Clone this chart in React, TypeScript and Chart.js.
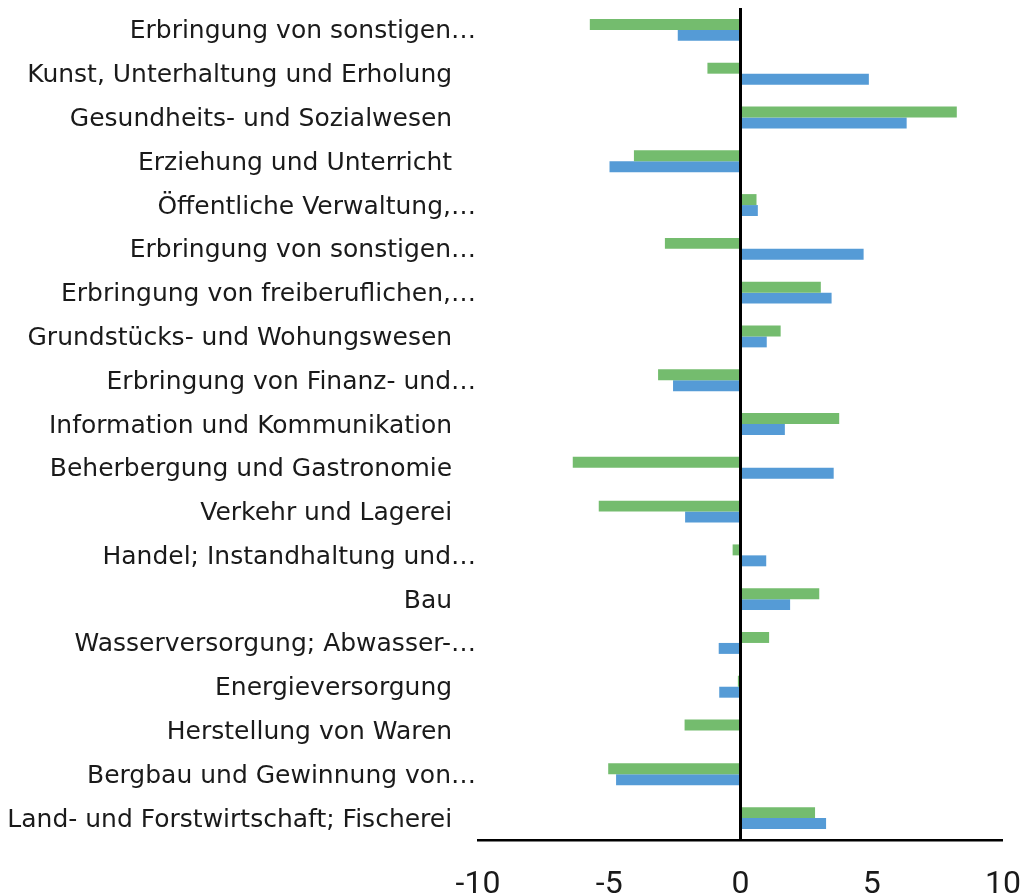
import React, { useEffect, useRef } from 'react';
import { Chart, registerables } from 'chart.js';

Chart.register(...registerables);

const categories = [
  'Erbringung von sonstigen…',
  'Kunst, Unterhaltung und Erholung',
  'Gesundheits- und Sozialwesen',
  'Erziehung und Unterricht',
  'Öffentliche Verwaltung,…',
  'Erbringung von sonstigen…',
  'Erbringung von freiberuflichen,…',
  'Grundstücks- und Wohungswesen',
  'Erbringung von Finanz- und…',
  'Information und Kommunikation',
  'Beherbergung und Gastronomie',
  'Verkehr und Lagerei',
  'Handel; Instandhaltung und…',
  'Bau',
  'Wasserversorgung; Abwasser-…',
  'Energieversorgung',
  'Herstellung von Waren',
  'Bergbau und Gewinnung von…',
  'Land- und Forstwirtschaft; Fischerei',
];

const seriesGreen = [
  -5.74, -1.26, 8.24, -4.06, 0.61, -2.88, 3.06, 1.53, -3.14, 3.76,
  -6.39, -5.4, -0.3, 3.0, 1.09, -0.1, -2.13, -5.04, 2.84,
];

const seriesBlue = [
  -2.39, 4.89, 6.33, -4.99, 0.66, 4.69, 3.47, 1.0, -2.57, 1.69,
  3.55, -2.11, 0.98, 1.89, -0.83, -0.81, 0, -4.74, 3.26,
];

const xTicks = [-10, -5, 0, 5, 10];

const GREEN = '#74BC6E';
const BLUE = '#559BD6';
const LABEL_FONT = "'DejaVu Sans', sans-serif";
const TICK_FONT = "Roboto, 'DejaVu Sans', sans-serif";

export default function App() {
  const canvasRef = useRef<HTMLCanvasElement | null>(null);

  useEffect(() => {
    document.body.style.margin = '0';
    const canvas = canvasRef.current;
    if (!canvas) return;
    const chart = new Chart(canvas, {
      type: 'bar',
      data: {
        labels: categories,
        datasets: [
          {
            label: 'A',
            data: seriesGreen,
            backgroundColor: GREEN,
            borderWidth: 0,
            categoryPercentage: 0.5,
            barPercentage: 1,
          },
          {
            label: 'B',
            data: seriesBlue,
            backgroundColor: BLUE,
            borderWidth: 0,
            categoryPercentage: 0.5,
            barPercentage: 1,
          },
        ],
      },
      options: {
        indexAxis: 'y',
        animation: false,
        responsive: true,
        maintainAspectRatio: false,
        layout: { padding: { top: 8, right: 0, bottom: 0, left: 0 } },
        plugins: {
          legend: { display: false },
          tooltip: { enabled: false },
        },
        scales: {
          x: {
            type: 'linear',
            min: -10,
            max: 10,
            afterBuildTicks: (scale: any) => {
              scale.ticks = xTicks.map((v) => ({ value: v }));
            },
            afterFit: (scale: any) => {
              scale.height = 56;
              scale.paddingLeft = 0;
              scale.paddingRight = 18;
            },
            grid: {
              display: true,
              drawTicks: false,
              z: 1,
              color: (ctx: any) => (ctx.tick && ctx.tick.value === 0 ? '#000000' : 'rgba(0,0,0,0)'),
              lineWidth: (ctx: any) => (ctx.tick && ctx.tick.value === 0 ? 3 : 0),
            },
            border: { display: true, color: '#000000', width: 2.5, z: 1 },
            ticks: {
              color: '#1a1a1a',
              font: { family: TICK_FONT, size: 32 },
              padding: 26,
              maxRotation: 0,
              autoSkip: false,
            },
          },
          y: {
            type: 'category',
            afterFit: (scale: any) => {
              scale.width = 478;
              scale.paddingTop = 0;
              scale.paddingBottom = 0;
            },
            grid: { display: false, drawTicks: false },
            border: { display: false },
            ticks: {
              color: '#1a1a1a',
              font: { family: LABEL_FONT, size: 25 },
              padding: 2,
              labelOffset: 2,
              autoSkip: false,
              callback: function (this: any, value: any, index: number) {
                const lab = categories[index];
                return lab.endsWith('…') ? lab : lab + '   ';
              },
            },
          },
        },
      },
    });
    return () => chart.destroy();
  }, []);

  return (
    <div style={{ width: '1021px', height: '896px', position: 'relative' }}>
      <canvas ref={canvasRef} />
    </div>
  );
}
